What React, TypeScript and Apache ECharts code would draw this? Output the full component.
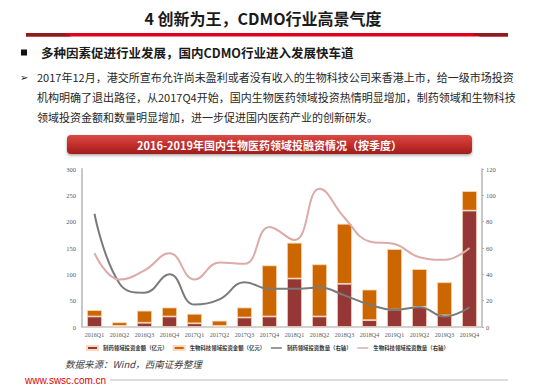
import React, { useEffect, useRef } from "react";
import * as echarts from "echarts";

const quarters = [
  "2016Q1", "2016Q2", "2016Q3", "2016Q4",
  "2017Q1", "2017Q2", "2017Q3", "2017Q4",
  "2018Q1", "2018Q2", "2018Q3", "2018Q4",
  "2019Q1", "2019Q2", "2019Q3", "2019Q4",
];
// 制药领域投资金额（亿元）
const pharmaAmount = [20, 2, 8, 20, 7, 2, 18, 20, 92, 20, 82, 13, 33, 38, 22, 221];
// 生物科技领域投资金额（亿元）
const bioAmount = [12, 7, 23, 17, 18, 10, 19, 97, 68, 99, 114, 58, 115, 72, 63, 37];
// 制药领域投资数量（右轴）
const pharmaCount = [86, 33, 26, 40, 17, 21, 34, 29, 29, 30, 24, 17, 13, 15, 8, 15];
// 生物科技领域投资数量（右轴）
const bioCount = [56, 36, 43, 56, 36, 49, 48, 76, 66, 105, 83, 65, 63, 53, 51, 60];

const seriesNames = [
  "制药领域投资金额（亿元）",
  "生物科技领域投资金额（亿元）",
  "制药领域投资数量（右轴）",
  "生物科技领域投资数量（右轴）",
];

const paragraph = [
  "2017年12月，港交所宣布允许尚未盈利或者没有收入的生物科技公司来香港上市，给一级市场投资",
  "机构明确了退出路径，从2017Q4开始，国内生物医药领域投资热情明显增加，制药领域和生物科技",
  "领域投资金额和数量明显增加，进一步促进国内医药产业的创新研发。",
];

const CJK = "'Noto Sans CJK SC', 'Noto Sans', sans-serif";
const SERIF = "'Liberation Serif', 'DejaVu Serif', serif";

export default function App() {
  const ref = useRef<HTMLDivElement>(null);
  useEffect(() => {
    if (!ref.current) return;
    const chart = echarts.init(ref.current, undefined, { renderer: "svg" });
    const barBorder = { borderColor: "#f7d9bd", borderWidth: 0.8 };
    chart.setOption({
      animation: false,
      backgroundColor: "#ffffff",
      grid: { left: 82, right: 68, top: 169, bottom: 60, containLabel: false },
      legend: {
        left: 86,
        top: 345,
        itemWidth: 11,
        itemHeight: 4,
        itemGap: 5,
        padding: 0,
        textStyle: { fontSize: 5.4, color: "#333", fontFamily: CJK, fontWeight: "bold" },
        data: [
          { name: seriesNames[0], icon: "rect" },
          { name: seriesNames[1], icon: "rect" },
          { name: seriesNames[2], itemStyle: { opacity: 0 }, lineStyle: { width: 1.5 } },
          { name: seriesNames[3], itemStyle: { opacity: 0 }, lineStyle: { width: 1.5 } },
        ],
      },
      xAxis: {
        type: "category",
        data: quarters,
        axisLine: { lineStyle: { color: "#c4c4c4", width: 1.5 } },
        axisTick: { show: false },
        axisLabel: { fontSize: 6, color: "#595959", fontFamily: SERIF, margin: 5, interval: 0 },
      },
      yAxis: [
        {
          type: "value",
          min: 0,
          max: 300,
          interval: 50,
          axisLine: { show: true, lineStyle: { color: "#c8c8c8", width: 2 } },
          axisTick: { show: false },
          splitLine: { show: false },
          axisLabel: { fontSize: 6.5, color: "#595959", fontFamily: SERIF, margin: 6 },
        },
        {
          type: "value",
          position: "right",
          min: 0,
          max: 120,
          interval: 20,
          axisLine: { show: true, lineStyle: { color: "#c8c8c8", width: 2 } },
          axisTick: { show: true, length: 2, lineStyle: { color: "#b0b0b0" } },
          splitLine: { show: false },
          axisLabel: { fontSize: 6.5, color: "#595959", fontFamily: SERIF, margin: 4 },
        },
      ],
      series: [
        {
          name: seriesNames[0],
          type: "bar",
          stack: "amount",
          barWidth: "60%",
          data: pharmaAmount,
          itemStyle: { color: "#953735", ...barBorder },
        },
        {
          name: seriesNames[1],
          type: "bar",
          stack: "amount",
          barWidth: "60%",
          data: bioAmount,
          itemStyle: { color: "#cc6600", ...barBorder },
        },
        {
          name: seriesNames[2],
          type: "line",
          yAxisIndex: 1,
          smooth: 0.45,
          symbol: "none",
          data: pharmaCount,
          lineStyle: { color: "#7a7a7a", width: 2 },
          itemStyle: { color: "#7a7a7a" },
        },
        {
          name: seriesNames[3],
          type: "line",
          yAxisIndex: 1,
          smooth: 0.45,
          symbol: "none",
          data: bioCount,
          lineStyle: { color: "#dcaaa7", width: 2 },
          itemStyle: { color: "#dcaaa7" },
        },
      ],
      graphic: [
        {
          type: "text",
          x: 263,
          y: 17.5,
          style: {
            text: "4 创新为王，CDMO行业高景气度",
            font: `bold 16px ${CJK}`,
            fill: "#1a1a1a",
            textAlign: "center",
            textVerticalAlign: "middle",
          },
        },
        {
          type: "rect",
          shape: { x: 26, y: 33, width: 482, height: 3.6 },
          style: { fill: "#e0001b" },
        },
        {
          type: "polygon",
          shape: { points: [[26, 33], [63, 33], [71, 36.6], [26, 36.6]] },
          style: { fill: "#8e1b1e" },
        },
        {
          type: "polygon",
          shape: { points: [[472, 33], [508, 33], [508, 36.6], [480, 36.6]] },
          style: { fill: "#8e1b1e" },
        },
        {
          type: "rect",
          shape: { x: 21, y: 49.5, width: 6, height: 6 },
          style: { fill: "#111" },
        },
        {
          type: "text",
          x: 41,
          y: 52,
          style: {
            text: "多种因素促进行业发展，国内CDMO行业进入发展快车道",
            font: `bold 12.5px ${CJK}`,
            fill: "#1a1a1a",
            textVerticalAlign: "middle",
          },
        },
        {
          type: "text",
          x: 20,
          y: 77,
          style: {
            text: "➢",
            font: `10px 'DejaVu Sans', sans-serif`,
            fill: "#222",
            textVerticalAlign: "middle",
          },
        },
        ...paragraph.map((line, i) => ({
          type: "text",
          x: 37,
          y: 77 + i * 20,
          style: {
            text: line,
            font: `11px ${CJK}`,
            fill: "#262626",
            textVerticalAlign: "middle",
          },
        })),
        {
          type: "rect",
          shape: { x: 67, y: 135, width: 405, height: 19, r: 4 },
          style: {
            fill: new echarts.graphic.LinearGradient(0, 0, 0, 1, [
              { offset: 0, color: "#d84a45" },
              { offset: 0.5, color: "#c42f2c" },
              { offset: 1, color: "#9e1e1d" },
            ]),
            shadowBlur: 3,
            shadowOffsetY: 1.5,
            shadowColor: "rgba(0,0,0,0.35)",
          },
        },
        {
          type: "text",
          x: 269.5,
          y: 144.5,
          style: {
            text: "2016-2019年国内生物医药领域投融资情况（按季度）",
            font: `bold 11px ${CJK}`,
            fill: "#ffffff",
            textAlign: "center",
            textVerticalAlign: "middle",
          },
        },
        {
          type: "text",
          x: 65,
          y: 364,
          style: {
            text: "数据来源：Wind，西南证券整理",
            font: `italic 9.5px ${CJK}`,
            fill: "#404040",
            textVerticalAlign: "middle",
          },
        },
        {
          type: "text",
          x: 25,
          y: 380,
          style: {
            text: "www.swsc.com.cn",
            font: `10px 'Liberation Sans', Arial, sans-serif`,
            fill: "#e00000",
            textVerticalAlign: "middle",
          },
        },
        {
          type: "line",
          shape: { x1: 110, y1: 380, x2: 508, y2: 380 },
          style: { stroke: "#d0d0d0", lineWidth: 1.5 },
        },
      ],
    });
    return () => chart.dispose();
  }, []);
  return (
    <div
      ref={ref}
      style={{ position: "absolute", left: 0, top: 0, width: 550, height: 387, background: "#fff" }}
    />
  );
}
